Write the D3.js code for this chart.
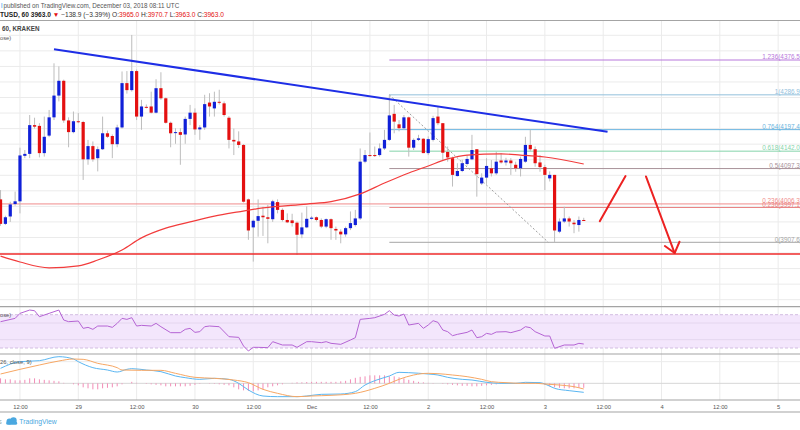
<!DOCTYPE html>
<html>
<head>
<meta charset="utf-8">
<script src="https://cdn.jsdelivr.net/npm/d3@7"></script>
<style>
  body { margin: 0; background: #fff; }
  svg { display: block; font-family: "Liberation Sans", Arial, sans-serif; }
</style>
</head>
<body>
<svg id="chart"></svg>
<script>
const width = 800
const height = 430

// hourly candles, BTCUSD Kraken, first bar Nov 28 08:00 UTC
const candleStart = Date.UTC(2018, 10, 28, 8)

const opens = [
  4018, 3955, 3974, 4006, 4013, 4130, 4135, 4209, 4207, 4137,
  4182, 4229, 4285, 4323, 4221, 4191, 4219, 4217, 4121, 4155,
  4124, 4147, 4188, 4181, 4160, 4203, 4317, 4299, 4348, 4231,
  4256, 4257, 4241, 4304, 4278, 4215, 4189, 4191, 4185, 4225,
  4241, 4198, 4203, 4267, 4252, 4269, 4265, 4228, 4171, 4167,
  4158, 4018, 3946, 3963, 3976, 3972, 3967, 4011, 3991, 3965,
  3964, 3958, 3928, 3946, 3968, 3972, 3965, 3948, 3967, 3942,
  3935, 3928, 3944, 3952, 3969, 4115, 4132, 4132, 4132, 4149,
  4171, 4238, 4211, 4201, 4229, 4151, 4171, 4174, 4137, 4171,
  4231, 4214, 4140, 4124, 4078, 4091, 4109, 4121, 4147, 4059,
  4074, 4098, 4085, 4118, 4113, 4118, 4107, 4098, 4115, 4158,
  4147, 4113, 4101, 4072, 4081, 3935, 3961, 3969, 3958, 3952,
  3965
]
const highs = [
  4042, 3976, 4012, 4038, 4151, 4145, 4235, 4228, 4214, 4231,
  4248, 4368, 4360, 4326, 4229, 4244, 4240, 4220, 4171, 4167,
  4154, 4231, 4195, 4185, 4210, 4347, 4348, 4441, 4352, 4274,
  4262, 4295, 4327, 4345, 4280, 4218, 4201, 4201, 4231, 4261,
  4252, 4209, 4287, 4291, 4295, 4300, 4270, 4232, 4200, 4193,
  4160, 4020, 3966, 4018, 3999, 4004, 4017, 4018, 3995, 3982,
  3981, 3961, 3984, 4000, 3975, 3974, 3969, 3969, 3969, 3948,
  3941, 3948, 3987, 3991, 4149, 4145, 4190, 4154, 4162, 4197,
  4286.9, 4261, 4222, 4235, 4231, 4175, 4184, 4175, 4180, 4233,
  4257, 4214, 4154, 4128, 4111, 4120, 4132, 4184, 4147, 4085,
  4124, 4119, 4141, 4137, 4125, 4124, 4115, 4128, 4179, 4197,
  4154, 4132, 4107, 4090, 4081, 3969, 3999, 3974, 3965, 3974,
  3970.7
]
const lows = [
  3950, 3952, 3960, 4002, 3982, 4124, 4124, 4200, 4126, 4128,
  4178, 4222, 4270, 4215, 4152, 4188, 4214, 4068, 4107, 4115,
  4090, 4145, 4176, 4124, 4152, 4200, 4290, 4295, 4222, 4197,
  4252, 4239, 4239, 4274, 4213, 4152, 4161, 4107, 4161, 4209,
  4184, 4171, 4197, 4231, 4231, 4262, 4231, 4149, 4132, 4150,
  4010, 3914, 3858, 3922, 3924, 3905, 3960, 3982, 3961, 3957,
  3948, 3875, 3918, 3944, 3966, 3961, 3944, 3944, 3914, 3914,
  3905, 3922, 3939, 3948, 3965, 4111, 4128, 4127, 4128, 4145,
  4168, 4188, 4193, 4197, 4128, 4145, 4168, 4137, 4132, 4167,
  4209, 4119, 4115, 4051, 4077, 4088, 4105, 4119, 4025, 4055,
  4058, 4077, 4081, 4110, 4105, 4081, 4089, 4077, 4112, 4141,
  4102, 4089, 4042, 4064, 3908, 3931, 3957, 3948, 3931, 3935,
  3963
]
const closes = [
  3955, 3972, 4005, 4013, 4131, 4135, 4209, 4205, 4137, 4179,
  4229, 4285, 4323, 4221, 4191, 4219, 4217, 4121, 4155, 4121,
  4147, 4188, 4179, 4160, 4203, 4317, 4299, 4348, 4231, 4257,
  4255, 4241, 4304, 4278, 4215, 4188, 4191, 4184, 4225, 4241,
  4198, 4203, 4263, 4257, 4269, 4267, 4235, 4171, 4167, 4158,
  4012, 3938, 3963, 3975, 3972, 3968, 4013, 3991, 3965, 3959,
  3957, 3927, 3946, 3968, 3971, 3965, 3948, 3967, 3944, 3938,
  3928, 3944, 3957, 3969, 4115, 4132, 4131, 4130, 4149, 4171,
  4234, 4218, 4201, 4229, 4151, 4171, 4175, 4137, 4173, 4227,
  4214, 4138, 4126, 4081, 4091, 4111, 4122, 4145, 4083, 4074,
  4104, 4085, 4115, 4113, 4118, 4111, 4098, 4122, 4158, 4147,
  4111, 4101, 4081, 4081, 3938, 3961, 3969, 3961, 3954, 3965,
  3963
]

// moving average (red), read at some bars
const maIdx = [0, 4, 10, 16, 20, 25, 29, 34, 39, 44, 49, 54, 63, 68, 74, 79, 84, 88, 92, 96, 103, 107, 112, 120]
const maVal = [3872, 3857, 3842, 3847, 3862, 3888, 3919, 3944, 3960, 3975, 3986, 3996, 4006, 4012, 4032, 4060, 4086, 4104, 4122, 4132, 4135, 4132, 4127, 4109]

// RSI
const rsiIdx = [0, 3, 4, 6, 7, 8, 10, 12, 13, 14, 16, 17, 18, 19, 20, 22, 23, 24, 25, 26,
  27, 28, 29, 31, 32, 33, 35, 37, 38, 39, 40, 41, 42, 43, 45, 47, 49, 50, 51, 52,
  53, 55, 56, 58, 60, 61, 63, 64, 66, 67, 68, 70, 72, 73, 74, 76, 77, 79, 80, 81,
  82, 83, 84, 86, 87, 88, 89, 90, 91, 92, 93, 94, 96, 97, 98, 99, 100, 101, 102, 104,
  105, 107, 108, 109, 110, 112, 113, 114, 116, 118, 119, 120]
const rsiVal = [61.6, 65.6, 71.6, 75.6, 74.8, 67.6, 71.6, 75.6, 63.6, 61.6, 62.4, 53.6, 54.8, 52.4, 56.4, 56.4, 54.8, 59.6, 65.6, 64.4,
  66.4, 56.4, 57.2, 56.4, 59.6, 55.6, 48.4, 48.4, 52.4, 53.6, 48.8, 49.6, 55.6, 56.4, 55.6, 43.6, 42.8, 32.4, 26.4, 30.8,
  30.8, 30.4, 37.6, 33.6, 33.6, 30.8, 37.6, 37.6, 36.4, 37.6, 35.6, 34.4, 39.6, 42.4, 64.4, 65.6, 66.4, 70.4, 74.8, 69.6,
  68.4, 70.8, 57.6, 59.6, 53.6, 57.6, 62.8, 60.8, 51.6, 49.6, 44.8, 46.4, 48.8, 51.6, 42.4, 43.6, 47.6, 46.4, 49.2, 49.6,
  48.4, 51.6, 55.6, 54.4, 49.6, 44.4, 44.4, 29.6, 33.6, 33.6, 35.6, 34.8]

// MACD (12, 26, close, 9)
const macdIdx = [0, 4, 8, 12, 15, 16, 19, 22, 24, 26, 27, 30, 33, 36, 38, 41, 44, 47, 49, 51,
  54, 57, 61, 63, 66, 70, 73, 75, 77, 80, 82, 84, 88, 90, 92, 95, 97, 100, 103, 106,
  108, 111, 112, 114, 117, 120]
const macdVal = [45, 65, 68, 80, 73, 65, 47, 40, 34, 42, 44, 40, 35, 22, 17, 12, 15, 12, 0, -20,
  -38, -40, -40, -38, -33, -32, -25, -5, 8, 22, 33, 32, 28, 25, 18, 12, 10, 3, 0, 0,
  3, 2, -2, -15, -22, -27]
const signalIdx = [0, 4, 8, 12, 15, 17, 20, 24, 25, 29, 33, 36, 40, 44, 48, 51, 54, 57, 61, 64,
  68, 73, 77, 80, 82, 85, 88, 90, 93, 96, 99, 101, 104, 107, 110, 112, 115, 118, 120]
const signalVal = [28, 42, 55, 67, 73, 72, 60, 47, 40, 39, 39, 30, 18, 15, 10, 2, -18, -30, -40, -38,
  -36, -30, -15, 0, 12, 25, 30, 29, 25, 20, 12, 5, 2, 0, 0, -2, -5, -10, -17]
const histVal = [
  15, 12, 12, 9, 9, 10.5, 15, 15, 12, 10.5,
  9, 7.5, 6, 1.5, 0, -3, -6, -12, -15, -18,
  -18, -15, -13.5, -12, -9, -3, 0, 4.5, 1.5, 0,
  -1.5, -3, -4.5, -6, -9, -9, -9, -9, -9, -7.5,
  -4.5, -1.5, 0, 1, -1.5, -3, -4.5, -6, -12, -18,
  -21, -22.5, -24, -21, -18, -12, -9, -6, -3, 0,
  1.5, 3, 3, 4, 4.5, 4.5, 4.5, 4.5, 4.5, 4.5,
  6, 7.5, 12, 16.5, 19.5, 21, 24, 24, 24, 24,
  21, 21, 18, 15, 10.5, 7.5, 4.5, 3, 1.5, 1,
  0, -1.5, -3, -4.5, -6, -7.5, -7.5, -9, -9, -7.5,
  -6, -4.5, -3, -1.5, 0, 0, 1, 1.5, 1.5, 1,
  0, -1.5, -4.5, -9, -12, -13.5, -15, -15, -15, -13.5,
  -13.5
]

// fibonacci retracement drawn from the Dec 1 high
const fibLevels = ["1.236", "1", "0.764", "0.618", "0.5", "0.236", "0"]
const fibPrices = [4376.5, 4286.9, 4197.4, 4142.0, 4097.3, 3997.1, 3907.6]
const fibColors = ["#b878dc", "#92c0dc", "#6ab4e0", "#84d4aa", "#a8929a", "#e98484", "#a6a6a6"]
const fibStartBar = 80
const fibDiagonal = [[80, 4286.9], [112.7, 3907.6]]
const extraLevel = 4006.3

// hand drawn lines (bar index, price)
const trendLine = [[11, 4404], [124.9, 4192]]
const supportPrice = 3877.5
const arrowUp = [[123.3, 3962], [128.6, 4078]]
const arrowDown = [[132.8, 4077], [138.7, 3880]]
const arrowHead = [[136.7, 3898], [138.7, 3880], [139.7, 3909]]

const upColor = "#1020d8"
const downColor = "#e41010"
const wickColor = "#bdbdbd"
const gridColor = "#ebebeb"
const sepColor = "#a4a4a4"
const textColor = "#555"

const svg = d3.select("#chart").attr("width", width).attr("height", height)

const barTime = i => new Date(candleStart + i * 3600e3)
const x = d3.scaleUtc()
  .domain([barTime(0), barTime(120)])
  .range([0.54, 583.74])
const xb = i => x(barTime(i))

const y = d3.scaleLinear().domain([3907.6, 4376.5]).range([242.3, 60])
const yRsi = d3.scaleLinear().domain([30, 70]).range([348, 314.7])
const yMacd = d3.scaleLinear().domain([-50, 85]).range([400, 355])

const mainTop = 20.5, mainBottom = 306.7, rsiBottom = 354, macdBottom = 400, axisBottom = 412

svg.append("defs").append("clipPath").attr("id", "mainClip")
  .append("rect").attr("x", 0).attr("y", mainTop).attr("width", width).attr("height", mainBottom - mainTop)

// ---- grid ----
const gridTimes = d3.utcHour.every(12).range(new Date(Date.UTC(2018, 10, 28, 12)), new Date(Date.UTC(2018, 11, 5, 1)))
const grid = svg.append("g")
grid.selectAll(".vgrid").data(gridTimes).join("line")
  .attr("x1", d => x(d)).attr("x2", d => x(d))
  .attr("y1", mainTop).attr("y2", macdBottom)
  .style("stroke", gridColor).style("stroke-width", 1)

const priceGrid = d3.range(3760, 4441, 40)
grid.selectAll(".hgrid").data(priceGrid).join("line")
  .attr("x1", 0).attr("x2", width)
  .attr("y1", d => y(d)).attr("y2", d => y(d))
  .style("stroke", gridColor).style("stroke-width", 1)

// ---- RSI pane background ----
svg.append("rect")
  .attr("x", 0).attr("width", width)
  .attr("y", yRsi(70)).attr("height", yRsi(30) - yRsi(70))
  .style("fill", "#f3e6fc")
svg.selectAll(".rsigrid").data([60, 40]).join("line")
  .attr("x1", 0).attr("x2", width)
  .attr("y1", d => yRsi(d)).attr("y2", d => yRsi(d))
  .style("stroke", "#e4d6ee").style("stroke-width", 1)
svg.selectAll(".rsiband").data([70, 30]).join("line")
  .attr("x1", 0).attr("x2", width)
  .attr("y1", d => yRsi(d)).attr("y2", d => yRsi(d))
  .style("stroke", "#d2bde2").style("stroke-width", 1).style("stroke-dasharray", "3,2")

// MACD grid
svg.selectAll(".macdgrid").data([65, 0]).join("line")
  .attr("x1", 0).attr("x2", width)
  .attr("y1", d => yMacd(d)).attr("y2", d => yMacd(d))
  .style("stroke", (d, i) => i ? "#d6d6d6" : gridColor).style("stroke-width", 1)

// ---- main pane ----
const main = svg.append("g").attr("clip-path", "url(#mainClip)")

// fib levels
main.selectAll(".fib").data(fibPrices).join("line")
  .attr("x1", xb(fibStartBar)).attr("x2", width)
  .attr("y1", d => y(d)).attr("y2", d => y(d))
  .style("stroke", (d, i) => fibColors[i]).style("stroke-width", 1)

main.append("line")
  .attr("x1", 0).attr("x2", width)
  .attr("y1", y(extraLevel)).attr("y2", y(extraLevel))
  .style("stroke", "#f08c8c").style("stroke-width", 1)

main.append("line")
  .attr("x1", xb(fibDiagonal[0][0])).attr("y1", y(fibDiagonal[0][1]))
  .attr("x2", xb(fibDiagonal[1][0])).attr("y2", y(fibDiagonal[1][1]))
  .style("stroke", "#9e9e9e").style("stroke-width", 1).style("stroke-dasharray", "2,2")

main.selectAll(".fiblabel").data(fibPrices).join("text")
  .attr("x", 802).attr("y", d => y(d) - 0.8)
  .attr("text-anchor", "end")
  .style("font-size", "6.4px")
  .style("fill", (d, i) => fibColors[i])
  .text((d, i) => `${fibLevels[i]}(${d.toFixed(1)})`)
main.append("text")
  .attr("x", 802).attr("y", y(extraLevel) - 0.8)
  .attr("text-anchor", "end")
  .style("font-size", "6.4px")
  .style("fill", "#f08c8c")
  .text(`0.236(${extraLevel.toFixed(1)})`)

// candles
const candles = d3.range(opens.length).map(i => ({ i, o: opens[i], h: highs[i], l: lows[i], c: closes[i] }))

main.selectAll(".wick").data(candles).join("line")
  .attr("x1", d => xb(d.i)).attr("x2", d => xb(d.i))
  .attr("y1", d => y(d.h)).attr("y2", d => y(d.l))
  .style("stroke", wickColor).style("stroke-width", 1)

main.selectAll(".body").data(candles).join("rect")
  .attr("x", d => xb(d.i) - 1.6)
  .attr("width", 3.2)
  .attr("y", d => y(Math.max(d.o, d.c)))
  .attr("height", d => Math.max(1, Math.abs(y(d.o) - y(d.c))))
  .style("fill", d => d.c >= d.o ? upColor : downColor)

// moving average
main.append("path")
  .datum(maIdx.map((d, k) => [d, maVal[k]]))
  .attr("d", d3.line().x(d => xb(d[0])).y(d => y(d[1])).curve(d3.curveMonotoneX))
  .style("fill", "none").style("stroke", "#f23c3c").style("stroke-width", 1.2)

// trend line
main.append("line")
  .attr("x1", xb(trendLine[0][0])).attr("y1", y(trendLine[0][1]))
  .attr("x2", xb(trendLine[1][0])).attr("y2", y(trendLine[1][1]))
  .style("stroke", "#1e2ee6").style("stroke-width", 2)

// support
main.append("line")
  .attr("x1", 0).attr("x2", width)
  .attr("y1", y(supportPrice)).attr("y2", y(supportPrice))
  .style("stroke", "#ef2b2b").style("stroke-width", 1.6)

// arrows
const seg = d3.line().x(d => xb(d[0])).y(d => y(d[1]))
;[arrowUp, arrowDown, arrowHead].forEach(pts => {
  main.append("path").attr("d", seg(pts))
    .style("fill", "none").style("stroke", "#ec2222").style("stroke-width", 2)
    .style("stroke-linecap", "round").style("stroke-linejoin", "round")
})

// ---- RSI ----
svg.append("path")
  .datum(rsiIdx.map((d, k) => [d, rsiVal[k]]))
  .attr("d", d3.line().x(d => xb(d[0])).y(d => yRsi(d[1])))
  .style("fill", "none").style("stroke", "#b564d4").style("stroke-width", 1)

// ---- MACD ----
svg.selectAll(".hist").data(histVal).join("line")
  .attr("x1", (d, i) => xb(i)).attr("x2", (d, i) => xb(i))
  .attr("y1", yMacd(0)).attr("y2", d => yMacd(d))
  .style("stroke", "#f28cb6").style("stroke-width", 1)

svg.append("path")
  .datum(macdIdx.map((d, k) => [d, macdVal[k]]))
  .attr("d", d3.line().x(d => xb(d[0])).y(d => yMacd(d[1])).curve(d3.curveMonotoneX))
  .style("fill", "none").style("stroke", "#5ab6f2").style("stroke-width", 1)

svg.append("path")
  .datum(signalIdx.map((d, k) => [d, signalVal[k]]))
  .attr("d", d3.line().x(d => xb(d[0])).y(d => yMacd(d[1])).curve(d3.curveMonotoneX))
  .style("fill", "none").style("stroke", "#f7a764").style("stroke-width", 1)

// ---- separators ----
svg.selectAll(".sep").data([mainTop, mainBottom, rsiBottom, macdBottom, axisBottom]).join("line")
  .attr("x1", 0).attr("x2", width)
  .attr("y1", d => d).attr("y2", d => d)
  .style("stroke", sepColor).style("stroke-width", 1.2)

// ---- time axis ----
const tickFormat = d => {
  if (d.getUTCHours() === 12) return "12:00"
  if (d.getUTCDate() === 1) return "Dec"
  return String(d.getUTCDate())
}
const xAxis = d3.axisBottom(x).tickValues(gridTimes).tickFormat(tickFormat).tickSize(0).tickPadding(0)
const axisG = svg.append("g").attr("transform", `translate(0, ${macdBottom + 4.6})`).call(xAxis)
axisG.select(".domain").remove()
axisG.selectAll("text")
  .style("font-size", "5.8px")
  .style("fill", textColor)
  .style("font-family", "'Liberation Sans', Arial, sans-serif")

// ---- texts ----
const head = svg.append("text").attr("x", 1).attr("y", 8).style("font-size", "6.3px").style("fill", textColor)
head.append("tspan").style("fill", "#2196f3").text("l")
head.append("tspan").attr("x", 3.4).text("published on TradingView.com, December 03, 2018 08:11 UTC")

const quote = svg.append("text").attr("x", 0).attr("y", 16.6).style("font-size", "6.6px").style("fill", "#333")
const quoteParts = [
  ["TUSD, 60 ", "#222", "bold"],
  ["3963.0 ", "#222", "bold"],
  ["\u25BC ", "#e41010", "normal"],
  ["\u2212138.9 (\u22123.39%) ", "#333", "normal"],
  ["O:", "#333", "normal"],
  ["3965.0 ", "#e41010", "normal"],
  ["H:", "#333", "normal"],
  ["3970.7 ", "#e41010", "normal"],
  ["L:", "#333", "normal"],
  ["3963.0 ", "#e41010", "normal"],
  ["C:", "#333", "normal"],
  ["3963.0", "#e41010", "normal"]
]
quoteParts.forEach(p => {
  quote.append("tspan").style("fill", p[1]).style("font-weight", p[2]).text(p[0])
})

svg.append("text").attr("x", 2).attr("y", 31)
  .style("font-size", "6.3px").style("font-weight", "bold").style("fill", "#444")
  .text("60, KRAKEN")
svg.append("text").attr("x", 0).attr("y", 39.8)
  .style("font-size", "5.8px").style("fill", textColor)
  .text("ose)")

svg.append("text").attr("x", 0).attr("y", 317.2)
  .style("font-size", "5.8px").style("fill", textColor)
  .text("ose)")
svg.append("text").attr("x", 0).attr("y", 363.8)
  .style("font-size", "5.8px").style("fill", textColor)
  .text("26, close, 9)")

// TradingView footer
svg.append("text").attr("x", -1.5).attr("y", 424).style("font-size", "6.5px").style("fill", "#9aa").text("s")
const logo = svg.append("g").attr("transform", "translate(5, 417)").style("fill", "#4aa8e0")
logo.append("circle").attr("cx", 4.5).attr("cy", 4.5).attr("r", 3)
logo.append("circle").attr("cx", 8.5).attr("cy", 3.5).attr("r", 3.2)
logo.append("rect").attr("x", 1.2).attr("y", 4.5).attr("width", 11).attr("height", 3.3).attr("rx", 1.6)
svg.append("text").attr("x", 19.3).attr("y", 424)
  .style("font-size", "6.8px").style("fill", "#4aa8e0")
  .text("TradingView")
</script>
</body>
</html>
